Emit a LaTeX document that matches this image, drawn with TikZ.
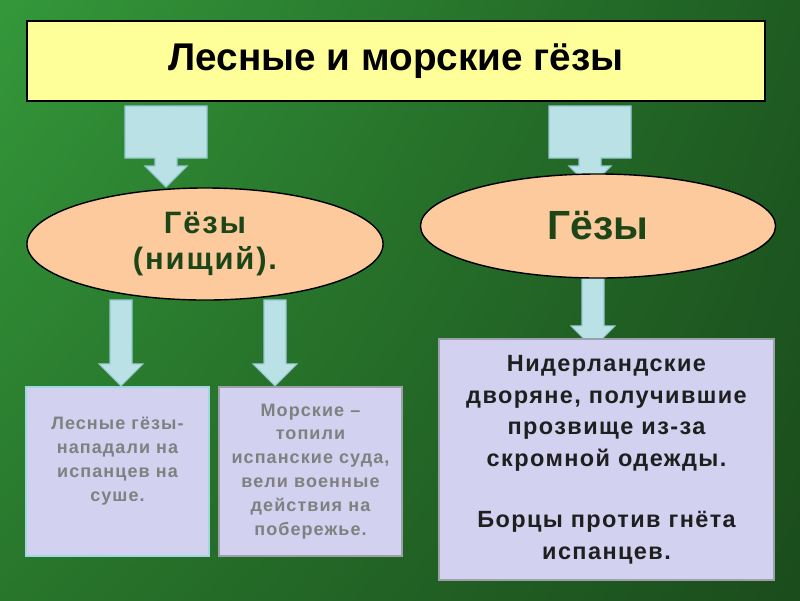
\documentclass[tikz,border=0pt]{standalone}
\usepackage{fontspec}
\setmainfont{Liberation Sans}
\newfontfamily\boxfont[LetterSpace=6]{Liberation Sans}
\usetikzlibrary{shapes.geometric,calc,shadings}
\definecolor{bgtl}{RGB}{52,152,58}
\definecolor{bgtr}{RGB}{30,92,34}
\definecolor{bgbl}{RGB}{40,118,44}
\definecolor{bgbr}{RGB}{27,76,28}
\definecolor{titlefill}{RGB}{255,255,153}
\definecolor{ovalfill}{RGB}{252,202,156}
\definecolor{ovaltext}{RGB}{28,70,24}
\definecolor{boxfill}{RGB}{210,210,240}
\definecolor{tealline}{RGB}{160,215,225}
\definecolor{grayline}{RGB}{155,160,170}
\definecolor{textgray}{RGB}{128,128,128}
\definecolor{arrowfill}{RGB}{185,225,230}
\definecolor{arrowline}{RGB}{150,200,210}
\pgfdeclarelayer{bg}\pgfdeclarelayer{arrows}
\pgfsetlayers{bg,arrows,main}
\newcommand{\blockarrow}[2]{\draw[blockarr] ($(#1)+(-11,0)$) -- ($(#1)+(11,0)$) -- ($(#1|-#2)+(11,-22)$) -- ($(#1|-#2)+(22,-22)$) -- (#1|-#2) -- ($(#1|-#2)+(-22,-22)$) -- ($(#1|-#2)+(-11,-22)$) -- cycle;}
\newcommand{\calloutarrow}[1]{\draw[blockarr] ($(#1)+(-41,0)$) -- ($(#1)+(41,0)$) -- ($(#1)+(41,52)$) -- ($(#1)+(11,52)$) -- ($(#1)+(11,60)$) -- ($(#1)+(21,60)$) -- ($(#1)+(0,81)$) -- ($(#1)+(-21,60)$) -- ($(#1)+(-11,60)$) -- ($(#1)+(-11,52)$) -- ($(#1)+(-41,52)$) -- cycle;}
\tikzset{
  titlebox/.style={draw=black, line width=1.2pt, fill=titlefill, minimum width=18.45cm, minimum height=2cm, font=\bfseries\fontsize{27.5}{32}\selectfont},
  oval/.style={ellipse, draw=black, line width=1pt, fill=ovalfill, text=ovaltext, align=center, inner sep=0pt},
  infobox/.style={rectangle, fill=boxfill, line width=1.5pt, align=center, inner sep=0pt},
  blockarr/.style={fill=arrowfill, draw=arrowline, line width=0.8pt}
}
\begin{document}
\begin{tikzpicture}[x=0.025cm, y=-0.025cm]
\begin{pgfonlayer}{bg}
\shade[upper left=bgtl, upper right=bgtr, lower left=bgbl, lower right=bgbr] (0,0) rectangle (800,600);
\end{pgfonlayer}
\node[titlebox] (title) at (396,61) {Лесные и морские гёзы};
\node[oval, minimum width=8.9cm, minimum height=2.8cm, font=\boxfont\bfseries\fontsize{22}{26}\selectfont] (gl) at (205,244) {Гёзы\\(нищий).};
\node[oval, minimum width=8.875cm, minimum height=2.6cm, font=\bfseries\fontsize{29}{32}\selectfont] (gr) at (598,226) {Гёзы};
\node[infobox, draw=tealline, text=textgray, minimum width=4.575cm, minimum height=4.225cm, font=\boxfont\bfseries\fontsize{12.8}{17}\selectfont] (lb) at (117.5,471.5) {Лесные гёзы-\\нападали на\\испанцев на\\суше.\\\mbox{}};
\node[infobox, draw=grayline, text=textgray, minimum width=4.575cm, minimum height=4.225cm, font=\boxfont\bfseries\fontsize{12.8}{17}\selectfont] (mb) at (310.5,471.5) {Морские –\\топили\\испанские суда,\\вели военные\\действия на\\побережье.};
\node[infobox, draw=grayline, text=black!88, minimum width=8.375cm, minimum height=6.025cm, font=\boxfont\bfseries\fontsize{16.7}{22.5}\selectfont] (rb) at (606.5,459.5) {Нидерландские\\дворяне, получившие\\прозвище из-за\\скромной одежды.\\[21pt]Борцы против гнёта\\испанцев.};
\coordinate (a1) at (166,106);
\coordinate (a2) at (590,106);
\coordinate (b1) at (121,300);
\coordinate (b2) at (275,300);
\coordinate (b3) at (593,270);
\coordinate (e3) at ($(rb.north)+(0,10)$);
\begin{pgfonlayer}{arrows}
\calloutarrow{a1}
\calloutarrow{a2}
\blockarrow{b1}{lb.north}
\blockarrow{b2}{mb.north}
\blockarrow{b3}{e3}
\end{pgfonlayer}
\end{tikzpicture}
\end{document}
